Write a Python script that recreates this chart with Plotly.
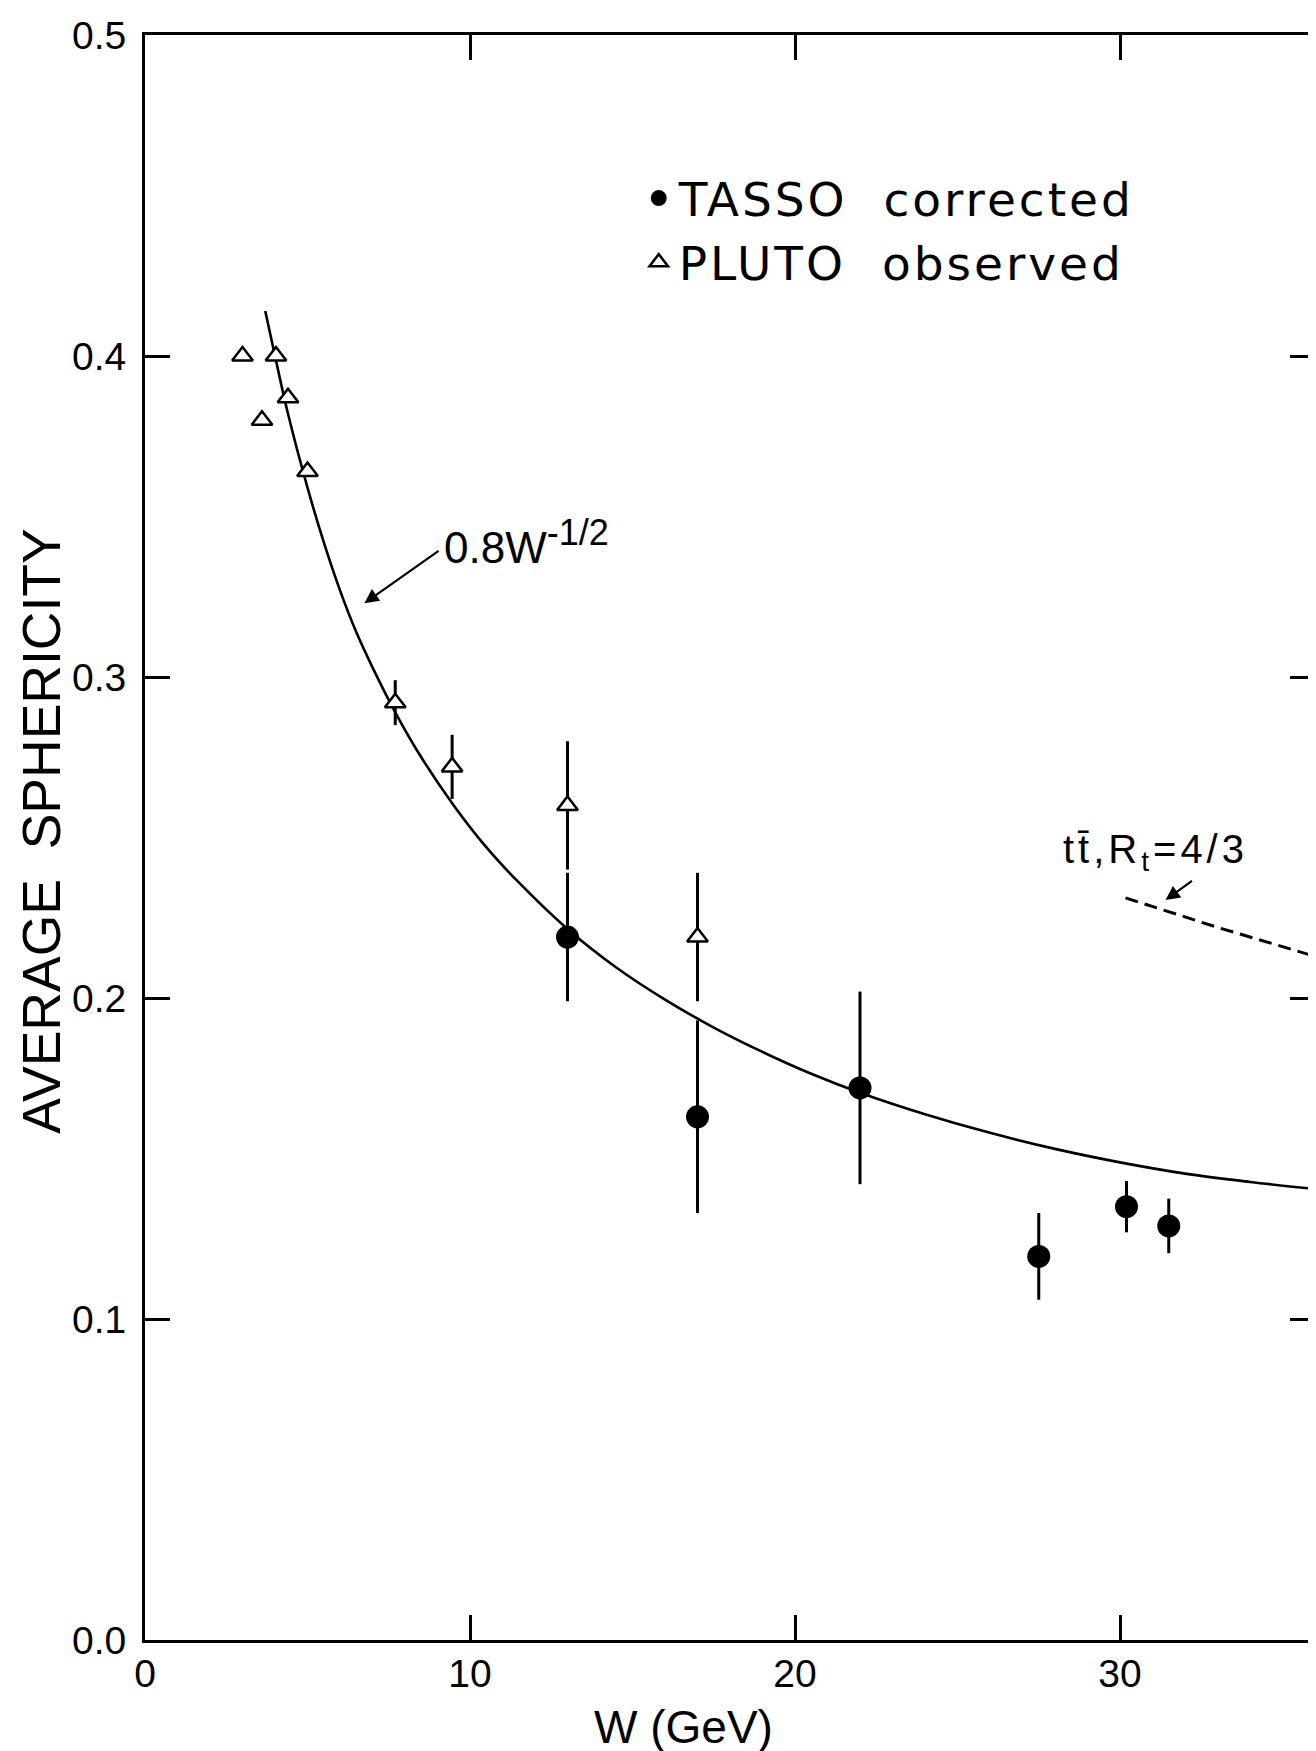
import plotly.graph_objects as go

# ---- data ----
pluto_w = [3.0, 3.6, 4.03, 4.4, 5.0, 7.7, 9.45, 13.0, 17.0]
pluto_s = [0.400, 0.380, 0.400, 0.387, 0.364, 0.292, 0.272, 0.260, 0.219]
pluto_err = [0.0, 0.0, 0.0, 0.0, 0.0, 0.007, 0.010, 0.020, 0.020]

tasso_w = [13.0, 17.0, 22.0, 27.5, 30.2, 31.5]
tasso_s = [0.219, 0.163, 0.172, 0.1195, 0.135, 0.129]
tasso_err = [0.020, 0.030, 0.030, 0.0135, 0.008, 0.0085]

# curve labelled 0.8W^-1/2
curve_w = [3.7, 4.0, 4.4, 5.0, 5.5, 6.0, 6.5, 7.0, 7.7, 8.5, 9.5, 10.5, 11.5, 13.0,
           14.5, 16.0, 17.5, 19.0, 20.5, 22.0, 24.0, 26.0, 28.0, 30.0, 32.0, 34.0, 36.0]
curve_s = [0.414, 0.400, 0.382, 0.359, 0.342, 0.327, 0.314, 0.303, 0.289, 0.275, 0.260,
           0.247, 0.236, 0.2215, 0.2095, 0.1995, 0.1908, 0.1832, 0.1764, 0.1705, 0.1638,
           0.1580, 0.1530, 0.1488, 0.1453, 0.1427, 0.1405]

# dashed t-tbar prediction
top_w = [30.17, 33.0, 36.0]
top_s = [0.2312, 0.2220, 0.2130]

y_ticks = [0.0, 0.1, 0.2, 0.3, 0.4, 0.5]
y_ticktext = ["0.0", "0.1", "0.2", "0.3", "0.4", "0.5"]
x_ticks = [0, 10, 20, 30]
x_ticktext = ["0", "10", "20", "30"]

FONT = "Liberation Sans, Arial, sans-serif"
LEGFONT = "DejaVu Sans, Liberation Sans, sans-serif"

fig = go.Figure()

fig.add_trace(go.Scatter(
    x=curve_w, y=curve_s, mode="lines",
    line=dict(color="black", width=2.6, shape="spline", smoothing=1.0),
    showlegend=False, hoverinfo="skip"))

fig.add_trace(go.Scatter(
    x=top_w, y=top_s, mode="lines", line=dict(color="black", width=3, dash="13px,7px"),
    showlegend=False, hoverinfo="skip"))

fig.add_trace(go.Scatter(
    x=tasso_w, y=tasso_s, mode="markers",
    name='<span style="letter-spacing:3px">TASSO  corrected</span>',
    marker=dict(symbol="circle", size=23, color="black"),
    error_y=dict(type="data", array=tasso_err, visible=True, width=0, thickness=3, color="black")))

fig.add_trace(go.Scatter(
    x=pluto_w, y=pluto_s, mode="markers",
    name='<span style="letter-spacing:3px">PLUTO  observed</span>',
    marker=dict(symbol="triangle-up", size=18, color="white", line=dict(color="black", width=2.5)),
    error_y=dict(type="data", array=pluto_err, visible=True, width=0, thickness=3, color="black")))

axis_common = dict(showline=True, linewidth=3, linecolor="black", mirror="allticks",
                   ticks="inside", ticklen=25, tickwidth=2.5, tickcolor="black",
                   showgrid=False, zeroline=False,
                   tickfont=dict(family=FONT, size=39, color="black"))

fig.update_xaxes(range=[0, 36], tickvals=x_ticks, ticktext=x_ticktext,
                 ticklabelstandoff=-3, **axis_common)
fig.update_yaxes(range=[0, 0.5], tickvals=y_ticks, ticktext=y_ticktext,
                 ticklabelstandoff=8, **axis_common)

fig.update_layout(
    width=1316, height=1751,
    margin=dict(l=137, r=6, t=27, b=119),
    plot_bgcolor="white", paper_bgcolor="white",
    font=dict(family=FONT, color="black"),
    legend=dict(x=0.422, y=0.9215, xanchor="left", yanchor="top",
                font=dict(family=LEGFONT, size=47, color="black"),
                bgcolor="rgba(0,0,0,0)", itemwidth=30, tracegroupgap=0),
    annotations=[
        dict(text="AVERAGE  SPHERICITY", xref="paper", yref="paper", x=-0.088, y=0.5036,
             textangle=-90, showarrow=False, xanchor="center", yanchor="middle",
             font=dict(family=FONT, size=53.5, color="black")),
        dict(text="W (GeV)", xref="paper", yref="paper", x=0.46, y=-0.0542,
             showarrow=False, xanchor="center", yanchor="middle",
             font=dict(family=FONT, size=46, color="black")),
        dict(text='0.8W<sup><span style="font-size:36px">-1/2</span></sup>',
             xref="x", yref="y", x=9.15, y=0.342,
             showarrow=False, xanchor="left", yanchor="middle",
             font=dict(family=FONT, size=44, color="black")),
        dict(text="", xref="x", yref="y", x=6.75, y=0.323, axref="x", ayref="y",
             ax=9.08, ay=0.3396, showarrow=True, arrowhead=2, arrowsize=1.3,
             arrowwidth=2.2, arrowcolor="black"),
        dict(text='<span style="letter-spacing:4px">tt\u0304,R<sub>t</sub>=4/3</span>',
             xref="x", yref="y", x=28.17, y=0.2455,
             showarrow=False, xanchor="left", yanchor="middle",
             font=dict(family=FONT, size=40, color="black")),
        dict(text="", xref="x", yref="y", x=31.4, y=0.2305, axref="x", ayref="y",
             ax=32.26, ay=0.2368, showarrow=True, arrowhead=2, arrowsize=1.3,
             arrowwidth=2.2, arrowcolor="black"),
    ],
)

fig.write_html("out.html")
